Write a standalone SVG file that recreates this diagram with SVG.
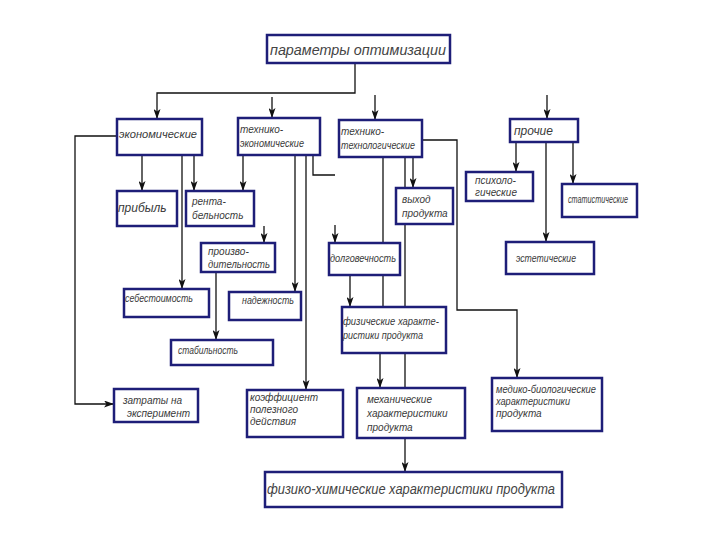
<svg xmlns="http://www.w3.org/2000/svg" width="720" height="540" viewBox="0 0 720 540">
<defs>
<marker id="ar" markerUnits="userSpaceOnUse" markerWidth="10" markerHeight="7" refX="10" refY="3.5" orient="auto">
<path d="M0,0 L10,3.5 L0,7 L2.5,3.5 z" fill="#111"/>
</marker>
<style>
.c{fill:none;stroke:#111;stroke-width:1.3}
.a{marker-end:url(#ar)}
.b{fill:#fff;stroke:#1e1e78;stroke-width:2.5}
.t{font-family:"Liberation Sans","DejaVu Sans",sans-serif;font-style:italic;font-size:10px;fill:#3a3a3a}
.l{font-size:15px;fill:#444}
.m{font-size:12px}
</style>
</defs>
<rect width="720" height="540" fill="#fff"/>
<g id="connectors">
<path class="c a" d="M355,63 V93 H157 V119"/>
<path class="c a" d="M272,97 V118"/>
<path class="c a" d="M375,95 V120"/>
<path class="c a" d="M547,95 V119"/>
<path class="c a" d="M117,136 H75 V404 H114"/>
<path class="c a" d="M142,155 V191"/>
<path class="c a" d="M194,155 V191"/>
<path class="c a" d="M182,155 V289"/>
<path class="c a" d="M243,155 V191"/>
<path class="c a" d="M264,226 V243"/>
<path class="c a" d="M216,272 V340"/>
<path class="c a" d="M295,155 V292"/>
<path class="c a" d="M306,155 V390"/>
<path class="c" d="M313,155 V175 H335"/>
<path class="c a" d="M422,140 H457 V310 H517 V378"/>
<path class="c a" d="M413,157 V188"/>
<path class="c a" d="M405,157 V472"/>
<path class="c" d="M383,157 V307"/>
<path class="c a" d="M335,225 V243"/>
<path class="c a" d="M350,275 V307"/>
<path class="c a" d="M380,353 V388"/>
<path class="c a" d="M516,142 V172"/>
<path class="c a" d="M573,142 V184"/>
<path class="c a" d="M546,142 V242"/>
</g>
<g id="n-top"><rect class="b" x="267" y="35" width="183" height="28"/><text class="t l" x="270" y="55" textLength="176" lengthAdjust="spacingAndGlyphs">параметры оптимизации</text></g>
<g id="n-econ"><rect class="b" x="117" y="119" width="85" height="36"/><text class="t" x="119" y="138" textLength="78" lengthAdjust="spacingAndGlyphs">экономические</text></g>
<g id="n-techecon"><rect class="b" x="238" y="118" width="82" height="37"/><text class="t" x="240" y="133">технико-</text><text class="t" x="240" y="147" textLength="64" lengthAdjust="spacingAndGlyphs">экономические</text></g>
<g id="n-techtech"><rect class="b" x="339" y="120" width="83" height="37"/><text class="t" x="341" y="135">технико-</text><text class="t" x="341" y="149" textLength="74" lengthAdjust="spacingAndGlyphs">технологические</text></g>
<g id="n-other"><rect class="b" x="510" y="119" width="68" height="23"/><text class="t m" x="514" y="135">прочие</text></g>
<g id="n-psych"><rect class="b" x="466" y="172" width="67" height="29"/><text class="t" x="475" y="184">психоло-</text><text class="t" x="475" y="196">гические</text></g>
<g id="n-stat"><rect class="b" x="562" y="184" width="75" height="33"/><text class="t" x="568" y="203" textLength="60" lengthAdjust="spacingAndGlyphs">статистические</text></g>
<g id="n-esth"><rect class="b" x="506" y="242" width="88" height="32"/><text class="t" x="516" y="262" textLength="60" lengthAdjust="spacingAndGlyphs">эстетические</text></g>
<g id="n-profit"><rect class="b" x="117" y="191" width="60" height="35"/><text class="t m" x="118" y="212">прибыль</text></g>
<g id="n-rent"><rect class="b" x="186" y="191" width="68" height="35"/><text class="t" x="192" y="205">рента-</text><text class="t" x="192" y="219">бельность</text></g>
<g id="n-prod"><rect class="b" x="201" y="243" width="74" height="29"/><text class="t" x="208" y="255">произво-</text><text class="t" x="208" y="268" textLength="62" lengthAdjust="spacingAndGlyphs">дительность</text></g>
<g id="n-cost"><rect class="b" x="124" y="289" width="85" height="28"/><text class="t" x="125" y="302" textLength="68" lengthAdjust="spacingAndGlyphs">себестоимость</text></g>
<g id="n-rel"><rect class="b" x="229" y="292" width="72" height="28"/><text class="t" x="242" y="304" textLength="52" lengthAdjust="spacingAndGlyphs">надежность</text></g>
<g id="n-stab"><rect class="b" x="171" y="340" width="102" height="25"/><text class="t" x="178" y="354" textLength="60" lengthAdjust="spacingAndGlyphs">стабильность</text></g>
<g id="n-yield"><rect class="b" x="396" y="188" width="57" height="36"/><text class="t" x="402" y="203">выход</text><text class="t" x="402" y="217">продукта</text></g>
<g id="n-dur"><rect class="b" x="329" y="243" width="71" height="32"/><text class="t" x="330" y="262" textLength="66" lengthAdjust="spacingAndGlyphs">долговечность</text></g>
<g id="n-phys"><rect class="b" x="342" y="307" width="104" height="46"/><text class="t" x="343" y="325" textLength="96" lengthAdjust="spacingAndGlyphs">физические характе-</text><text class="t" x="343" y="339" textLength="80" lengthAdjust="spacingAndGlyphs">ристики продукта</text></g>
<g id="n-expcost"><rect class="b" x="114" y="389" width="84" height="33"/><text class="t" x="123" y="404">затраты на</text><text class="t" x="127" y="417">эксперимент</text></g>
<g id="n-eff"><rect class="b" x="247" y="390" width="96" height="47"/><text class="t" x="250" y="401">коэффициент</text><text class="t" x="250" y="413">полезного</text><text class="t" x="250" y="425">действия</text></g>
<g id="n-mech"><rect class="b" x="357" y="388" width="108" height="50"/><text class="t" x="367" y="403">механические</text><text class="t" x="367" y="417">характеристики</text><text class="t" x="367" y="431">продукта</text></g>
<g id="n-med"><rect class="b" x="492" y="378" width="110" height="53"/><text class="t" x="496" y="393" textLength="100" lengthAdjust="spacingAndGlyphs">медико-биологические</text><text class="t" x="496" y="405" textLength="74" lengthAdjust="spacingAndGlyphs">характеристики</text><text class="t" x="496" y="417">продукта</text></g>
<g id="n-physchem"><rect class="b" x="265" y="472" width="297" height="35"/><text class="t l" x="267" y="494" textLength="288" lengthAdjust="spacingAndGlyphs">физико-химические характеристики продукта</text></g>
</svg>
